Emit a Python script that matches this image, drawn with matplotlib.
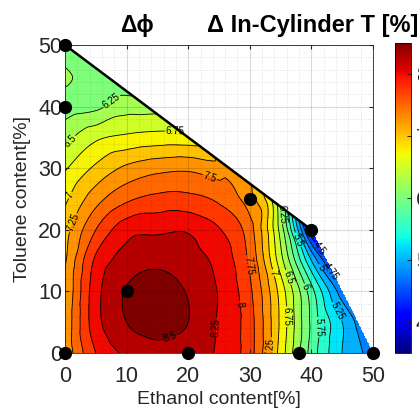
import numpy as np
import matplotlib
matplotlib.use('Agg')
import matplotlib.pyplot as plt
import matplotlib.tri as mtri
from matplotlib import cm, colors

plt.rcParams['font.family'] = ['Liberation Sans', 'DejaVu Sans']

# test blends (black dots): ethanol / toluene content [%]
ethanol_pts = [0, 0, 0, 10, 20, 30, 38, 40, 50]
toluene_pts = [0, 40, 50, 10, 0, 25, 0, 20, 0]

# delta in-cylinder T [%] (constant toluene)
toluene_rows = [0, 5, 10, 15, 20, 25, 30, 35, 40, 45, 50]
ethanol_rows = [
    [0, 5, 10, 15, 20, 25, 30, 35, 40, 45, 50],
    [0, 5, 10, 15, 20, 25, 30, 35, 40, 45, 47.5],
    [0, 5, 10, 15, 20, 25, 30, 35, 40, 45],
    [0, 5, 10, 15, 20, 25, 30, 35, 40, 42.5],
    [0, 5, 10, 15, 20, 25, 30, 35, 40],
    [0, 5, 10, 15, 20, 25, 30, 33.33],
    [0, 5, 10, 15, 20, 25, 26.67],
    [0, 5, 10, 15, 20],
    [0, 5, 10, 13.33],
    [0, 5, 6.67],
    [0],
]
dT_rows = [
    [7.3, 8.0, 8.3, 8.4, 8.4, 8.2, 7.85, 6.9, 5.9, 5.25, 4.9],
    [7.3, 8.15, 8.5, 8.62, 8.5, 8.22, 7.85, 6.95, 5.95, 5.25, 4.95],
    [7.25, 8.15, 8.52, 8.6, 8.48, 8.23, 7.8, 6.9, 5.85, 4.85],
    [7.22, 8.05, 8.35, 8.45, 8.35, 8.17, 7.7, 6.6, 5.25, 4.6],
    [7.15, 7.75, 8.15, 8.2, 8.22, 8.02, 7.6, 6.4, 4.25],
    [6.95, 7.4, 7.7, 7.82, 7.82, 7.7, 7.35, 6.8],
    [6.72, 7.05, 7.3, 7.42, 7.45, 7.35, 7.35],
    [6.42, 6.7, 6.8, 6.85, 6.85],
    [6.15, 6.2, 6.4, 6.4],
    [6.3, 6.1, 6.05],
    [6.0],
]

levels = np.arange(4.0, 9.0, 0.25)
cmin, cmax = 3.5, 8.5

# flatten rows into scattered points
xs, ys, zs = [], [], []
for yv, xr, zr in zip(toluene_rows, ethanol_rows, dT_rows):
    xs += list(xr)
    ys += [yv] * len(xr)
    zs += list(zr)
xs, ys, zs = np.array(xs, float), np.array(ys, float), np.array(zs, float)

tri = mtri.Triangulation(xs, ys)
interp = mtri.CubicTriInterpolator(tri, zs, kind='geom')
gx, gy = np.meshgrid(np.linspace(0, 50, 501), np.linspace(0, 50, 501))
gz = interp(gx, gy)

fig = plt.figure(figsize=(4.19, 4.12), dpi=100)
ax = fig.add_axes([65/419, 59/412, 308/419, 308/412])

# matlab fills each band with the colour of its lower level
fill_norm = colors.Normalize(cmin + 0.125, cmax + 0.125)
ax.contourf(gx, gy, gz, levels=levels, cmap='jet', norm=fill_norm, extend='both')
cs = ax.contour(gx, gy, gz, levels=levels, colors='k', linewidths=0.6)
ax.clabel(cs, fmt='%g', fontsize=7, inline=True, inline_spacing=1)

# edge of the blend space along the top
ax.plot([ethanol_pts[2], ethanol_pts[7]], [toluene_pts[2], toluene_pts[7]],
        color='k', lw=1.8, zorder=4)

ax.plot(ethanol_pts, toluene_pts, 'o', color='k', ms=8.5, clip_on=False, zorder=6)

ax.set_xlim(0, 50)
ax.set_ylim(0, 50)
ax.set_xticks([0, 10, 20, 30, 40, 50])
ax.set_yticks([0, 10, 20, 30, 40, 50])
ax.set_xticks(np.arange(0, 51, 2), minor=True)
ax.set_yticks(np.arange(0, 51, 2), minor=True)
ax.tick_params(which='major', direction='in', length=3, top=True, right=True,
               labelsize=15.5, colors='#262626')
ax.tick_params(axis='x', which='major', pad=9)
ax.tick_params(axis='y', which='major', pad=2)
ax.tick_params(which='minor', length=0)
ax.grid(True, which='major', color='k', alpha=0.14, lw=0.8)
ax.grid(True, which='minor', color='k', alpha=0.14, lw=0.6, ls=':')
ax.set_axisbelow(False)
for s in ax.spines.values():
    s.set_color('#262626')
    s.set_linewidth(0.6)

ax.set_xlabel('Ethanol content[%]', fontsize=14, color='#262626', labelpad=3)
ax.set_ylabel('Toluene content[%]', fontsize=14, color='#262626', labelpad=5)

fig.text(137/419, 1 - 32/412, 'Δϕ', fontsize=16.5, fontweight='bold', ha='center', va='baseline')
fig.text(207/419, 1 - 32/412, 'Δ In-Cylinder T [%]', fontsize=17, fontweight='bold',
         ha='left', va='baseline')

cax = fig.add_axes([395/419, 59/412, 16/419, 310/412])
sm = cm.ScalarMappable(norm=colors.Normalize(cmin, cmax), cmap='jet')
cb = fig.colorbar(sm, cax=cax)
cb.set_ticks([4, 5, 6, 7, 8])
cax.tick_params(direction='in', length=3, labelsize=15.5, colors='#262626')
cb.outline.set_linewidth(0.6)

fig.savefig('out.png', dpi=100)
